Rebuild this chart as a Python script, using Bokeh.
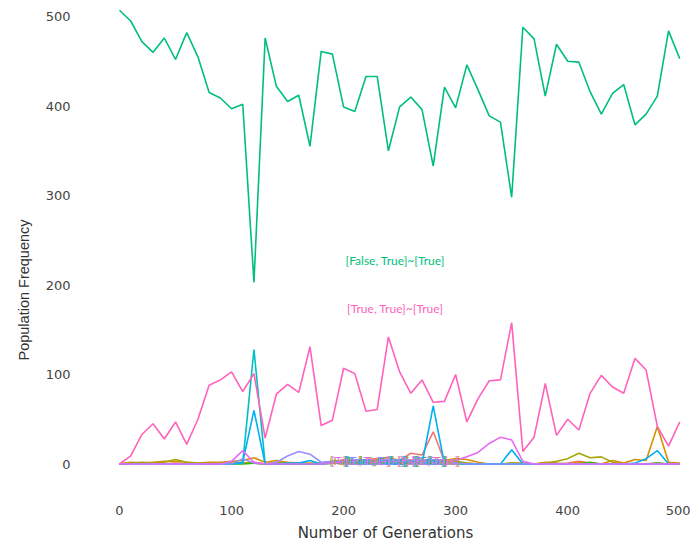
from bokeh.plotting import figure
from bokeh.models import Range1d, FixedTicker, ColumnDataSource, Title
from bokeh.core.properties import value
from bokeh.embed import file_html
from bokeh.resources import INLINE

# Generation at which each population census was taken
generations = list(range(0, 501, 10))

# Frequency of each genotype -> phenotype mapping per census
ff_f = [0, 1, 0, 1, 0, 1, 0, 0, 1, 0, 1, 1, 2, 0, 2, 1, 0, 0, 1, 2,
        3, 4, 5, 6, 7, 4, 12, 10, 36, 3, 2, 1, 0, 0, 0, 0, 0, 0, 0, 0,
        1, 3, 1, 0, 0, 0, 0, 0, 0, 0, 0]
ff_t = [0, 2, 1, 2, 3, 3, 2, 1, 2, 2, 3, 4, 7, 2, 4, 2, 1, 1, 1, 2,
        3, 2, 3, 5, 3, 2, 3, 4, 2, 4, 6, 5, 2, 0, 0, 1, 1, 0, 2, 1,
        0, 2, 1, 0, 4, 1, 5, 4, 42, 2, 1]
ft_ft = [0, 1, 2, 1, 2, 5, 2, 1, 0, 1, 1, 1, 1, 0, 1, 1, 0, 0, 1, 3,
         4, 3, 4, 3, 4, 3, 2, 3, 2, 3, 3, 1, 0, 0, 0, 1, 0, 0, 1, 3,
         6, 12, 7, 8, 2, 0, 0, 0, 1, 0, 0]
ft_f = [0, 0, 0, 0, 0, 0, 0, 0, 0, 0, 0, 0, 1, 0, 0, 0, 0, 0, 0, 1,
        1, 2, 1, 2, 1, 1, 1, 1, 0, 1, 1, 0, 0, 0, 0, 0, 0, 0, 0, 0,
        0, 0, 2, 0, 0, 0, 0, 0, 1, 0, 0]
ft_t = [507, 495, 472, 460, 476, 452, 482, 455, 415, 409, 397, 402, 203, 476, 422, 405, 412, 355, 461, 458,
        399, 394, 433, 433, 350, 399, 410, 396, 333, 421, 398, 446, 418, 389, 382, 298, 488, 475, 411, 469,
        450, 449, 416, 391, 414, 424, 379, 391, 411, 484, 453]
tf_f = [0, 0, 0, 0, 0, 0, 0, 0, 0, 0, 0, 1, 128, 0, 0, 0, 0, 0, 0, 1,
        1, 1, 2, 1, 1, 1, 1, 1, 0, 1, 0, 0, 0, 0, 0, 0, 0, 0, 0, 0,
        0, 0, 0, 0, 0, 0, 0, 0, 0, 0, 0]
tf_t = [0, 0, 0, 0, 0, 0, 0, 0, 0, 0, 0, 2, 60, 0, 0, 1, 1, 4, 0, 2,
        3, 2, 3, 2, 2, 3, 2, 0, 65, 0, 1, 0, 0, 0, 0, 16, 0, 0, 0, 0,
        0, 0, 0, 0, 0, 0, 1, 6, 15, 0, 0]
tt_f = [0, 0, 0, 0, 0, 0, 0, 0, 0, 0, 0, 6, 1, 0, 2, 9, 14, 11, 2, 3,
        4, 3, 4, 3, 4, 3, 2, 1, 0, 1, 1, 0, 0, 0, 0, 0, 0, 0, 0, 0,
        0, 0, 0, 0, 0, 0, 0, 0, 0, 0, 0]
tt_ft = [0, 0, 0, 0, 0, 0, 0, 0, 0, 0, 3, 15, 2, 0, 0, 0, 0, 0, 0, 1,
         2, 2, 3, 2, 2, 2, 3, 2, 1, 1, 4, 8, 13, 23, 30, 27, 3, 0, 0, 0,
         0, 0, 0, 0, 0, 0, 0, 0, 0, 0, 0]
tt_t = [0, 9, 33, 45, 28, 47, 22, 50, 88, 94, 103, 81, 101, 29, 78, 89, 80, 131, 43, 49,
        107, 101, 59, 61, 142, 103, 79, 94, 69, 70, 100, 47, 73, 93, 94, 158, 14, 30, 90, 32,
        50, 38, 79, 99, 86, 79, 118, 105, 42, 20, 47]

labels = [
    "[False, False]~[False]",
    "[False, False]~[True]",
    "[False, True]~[False, True]",
    "[False, True]~[False]",
    "[False, True]~[True]",
    "[True, False]~[False]",
    "[True, False]~[True]",
    "[True, True]~[False]",
    "[True, True]~[False, True]",
    "[True, True]~[True]",
]
series = [ff_f, ff_t, ft_ft, ft_f, ft_t, tf_f, tf_t, tt_f, tt_ft, tt_t]

# Where each mapping's name is written
label_x = [246] * 10
label_y = [3.5, 3.5, 3.5, 3.5, 227, 3.5, 3.5, 3.5, 3.5, 174]

colors = ["#F8766D", "#D89000", "#A3A500", "#39B600", "#00BF7D",
          "#00BFC4", "#00B0F6", "#9590FF", "#E76BF3", "#FF62BC"]

p = figure(width=690, height=544, output_backend="svg", toolbar_location=None,
           x_range=Range1d(-34.8, 509.6), y_range=Range1d(-30.7, 517.9),
           min_border_left=80, min_border_right=0, min_border_top=0,
           min_border_bottom=0)
p.outline_line_color = None
p.grid.visible = False
p.background_fill_color = "white"
p.border_fill_color = "white"

for vals, col in zip(series, colors):
    p.line(generations, vals, line_color=col, line_width=1.6)

src = ColumnDataSource(dict(x=label_x, y=label_y, text=labels, color=colors))
p.text(x="x", y="y", text="text", text_color="color", source=src,
       text_font=value("Lato"), text_font_size="12px",
       text_align="center", text_baseline="middle")

p.xaxis.ticker = FixedTicker(ticks=[0, 100, 200, 300, 400, 500])
p.yaxis.ticker = FixedTicker(ticks=[0, 100, 200, 300, 400, 500])
for ax in (p.xaxis, p.yaxis):
    ax.axis_line_color = None
    ax.major_tick_line_color = None
    ax.minor_tick_line_color = None
    ax.major_tick_out = 0
    ax.major_tick_in = 0
    ax.minor_tick_out = 0
    ax.minor_tick_in = 0
    ax.major_label_text_font = "DejaVu Sans"
    ax.major_label_text_font_size = "13px"
    ax.major_label_text_color = "#444444"

p.xaxis.axis_label = "Number of Generations"
p.xaxis.axis_label_text_font = "DejaVu Sans"
p.xaxis.axis_label_text_font_size = "15px"
p.xaxis.axis_label_text_font_style = "normal"
p.xaxis.axis_label_text_color = "#333333"
p.xaxis.major_label_standoff = 14
p.xaxis.axis_label_standoff = 6
p.yaxis.major_label_standoff = 10

# Vertical title of the frequency axis, starting a fixed distance above the bottom
p.add_layout(Title(text="Population Frequency", align="left", offset=131,
                   text_font="Liberation Sans", text_font_size="14.5px",
                   text_font_style="normal", text_color="#333333",
                   standoff=22), "left")

open("out.html", "w").write(file_html(p, INLINE))
